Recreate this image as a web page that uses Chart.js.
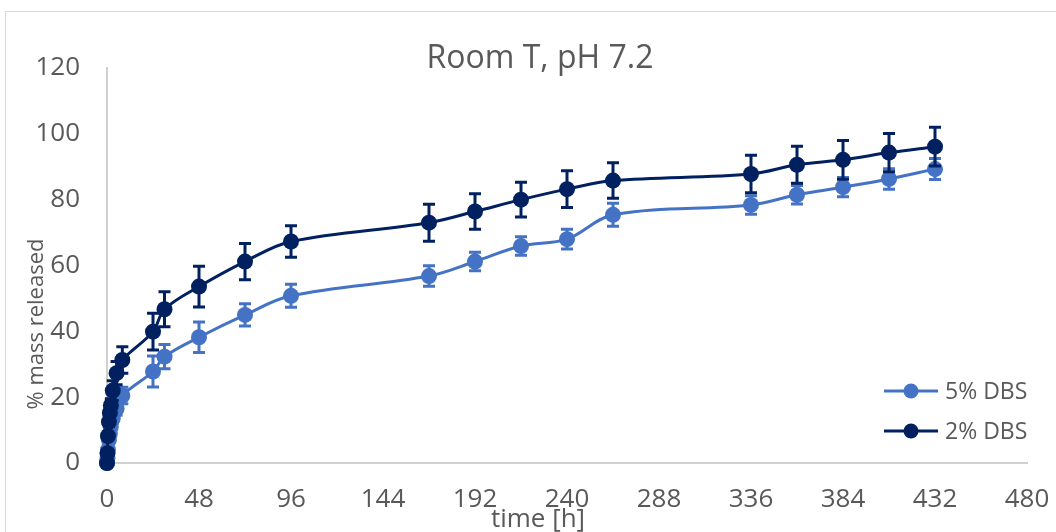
<!DOCTYPE html>
<html>
<head>
<meta charset="utf-8">
<script src="https://cdn.jsdelivr.net/npm/chart.js@4.4.1/dist/chart.umd.min.js"></script>
<style>
  html, body { margin: 0; padding: 0; background: #fff; }
  #wrap { width: 1056px; height: 532px; }
</style>
</head>
<body>
<div id="wrap"><canvas id="releaseChart" width="1056" height="532"></canvas></div>
<script>
// sampling times [h]
const hours = [0, 0.25, 0.5, 1, 1.5, 2, 3, 5, 8, 24, 30, 48, 72, 96, 168, 192, 216, 240, 264, 336, 360, 384, 408, 432];

// % mass released, 5% DBS
const dbs5 = [0, 1.5, 4, 7, 9, 11, 13.5, 16.5, 20.5, 27.8, 32.3, 38.2, 45, 50.8, 56.8, 61.2, 65.9, 68, 75.4, 78.4, 81.5, 83.8, 86.3, 89.3];
const dbs5Err = [0, 0.3, 0.5, 1, 1, 1.5, 1.5, 2, 2.5, 4.7, 3.7, 4.6, 3.4, 3.5, 3.1, 2.8, 2.8, 3, 3.5, 2.8, 2.8, 2.9, 3.1, 3.2];

// % mass released, 2% DBS
const dbs2 = [0, 3, 8.2, 12.5, 15.2, 17.5, 22, 27.3, 31.3, 39.9, 46.7, 53.6, 61.2, 67.3, 73, 76.4, 80, 83.2, 85.8, 87.8, 90.6, 92.1, 94.3, 96.1];
const dbs2Err = [0, 0.5, 1, 1.5, 2, 2, 3, 3.5, 4, 5.6, 5.3, 6.2, 5.5, 4.8, 5.6, 5.4, 5.3, 5.6, 5.4, 5.7, 5.6, 5.9, 5.8, 5.9];

const seriesLabels = ['5% DBS', '2% DBS'];
const seriesColors = ['#4472C4', '#002060'];
const errorSets = [dbs5Err, dbs2Err];

const textColor = '#595959';
const fontFamily = "'Open Sans', 'Liberation Sans', sans-serif";

const toPoints = (vals) => hours.map((h, i) => ({ x: h, y: vals[i] }));

// error bars drawn from the y scale, per dataset
const errorBars = {
  id: 'errorBars',
  afterDatasetDraw(chart, args) {
    const errs = errorSets[args.index];
    if (!errs) return;
    const ctx = chart.ctx;
    const yScale = chart.scales.y;
    const ds = chart.data.datasets[args.index];
    ctx.save();
    ctx.strokeStyle = seriesColors[args.index];
    ctx.lineWidth = 3;
    args.meta.data.forEach((pt, i) => {
      const e = errs[i];
      if (!e) return;
      const v = ds.data[i].y;
      const top = yScale.getPixelForValue(v + e);
      const bot = yScale.getPixelForValue(v - e);
      ctx.beginPath();
      ctx.moveTo(pt.x, top);
      ctx.lineTo(pt.x, bot);
      ctx.moveTo(pt.x - 6, top);
      ctx.lineTo(pt.x + 6, top);
      ctx.moveTo(pt.x - 6, bot);
      ctx.lineTo(pt.x + 6, bot);
      ctx.stroke();
    });
    ctx.restore();
  }
};

// frame, title, axis titles and legend, Excel style
const decor = {
  id: 'decor',
  beforeDraw(chart) {
    const ctx = chart.ctx;
    ctx.save();
    ctx.fillStyle = '#ffffff';
    ctx.fillRect(0, 0, chart.width, chart.height);
    ctx.strokeStyle = '#d9d9d9';
    ctx.lineWidth = 1;
    ctx.strokeRect(5.5, 11.5, chart.width + 20, chart.height + 20);
    ctx.restore();
  },
  afterDraw(chart) {
    const ctx = chart.ctx;
    ctx.save();
    ctx.fillStyle = textColor;
    ctx.textAlign = 'center';
    ctx.textBaseline = 'alphabetic';

    ctx.font = '32px ' + fontFamily;
    ctx.fillText('Room T, pH 7.2', 540, 68);

    ctx.font = '26px ' + fontFamily;
    ctx.fillText('time [h]', 538, 527);

    ctx.save();
    ctx.translate(43, 324);
    ctx.rotate(-Math.PI / 2);
    ctx.font = '22px ' + fontFamily;
    ctx.fillText('% mass released', 0, 0);
    ctx.restore();

    // legend
    ctx.font = '23px ' + fontFamily;
    ctx.textAlign = 'left';
    ctx.textBaseline = 'middle';
    const rows = [391, 431];
    chart.data.datasets.forEach((ds, i) => {
      const y = rows[i];
      ctx.strokeStyle = ds.borderColor;
      ctx.lineWidth = 3;
      ctx.beginPath();
      ctx.moveTo(884, y);
      ctx.lineTo(938, y);
      ctx.stroke();
      ctx.fillStyle = ds.backgroundColor;
      ctx.beginPath();
      ctx.arc(911, y, 7.5, 0, Math.PI * 2);
      ctx.fill();
      ctx.fillStyle = textColor;
      ctx.fillText(ds.label, 945, y + 1);
    });
    ctx.restore();
  }
};

const ctx = document.getElementById('releaseChart').getContext('2d');
new Chart(ctx, {
  type: 'line',
  data: {
    datasets: [
      {
        label: seriesLabels[0],
        data: toPoints(dbs5),
        borderColor: seriesColors[0],
        backgroundColor: seriesColors[0],
        borderWidth: 3,
        pointRadius: 8,
        pointBorderWidth: 0,
        tension: 0.35,
        clip: false,
        order: 2
      },
      {
        label: seriesLabels[1],
        data: toPoints(dbs2),
        borderColor: seriesColors[1],
        backgroundColor: seriesColors[1],
        borderWidth: 3,
        pointRadius: 8,
        pointBorderWidth: 0,
        tension: 0.35,
        clip: false,
        order: 1
      }
    ]
  },
  options: {
    responsive: false,
    animation: false,
    layout: { padding: { left: 0, right: 29, top: 68, bottom: 0 } },
    plugins: {
      legend: { display: false },
      title: { display: false },
      tooltip: { enabled: false }
    },
    scales: {
      x: {
        type: 'linear',
        min: 0,
        max: 480,
        grid: { display: false, drawTicks: false },
        border: { display: true, color: '#d0d0d0', width: 2 },
        ticks: {
          stepSize: 48,
          padding: 21,
          color: textColor,
          font: { family: fontFamily, size: 26 },
          maxRotation: 0
        },
        afterFit(scale) {
          scale.height = 69;
          scale.paddingLeft = 0;
          scale.paddingRight = 0;
        }
      },
      y: {
        min: 0,
        max: 120,
        grid: { display: false, drawTicks: false },
        border: { display: true, color: '#d0d0d0', width: 2 },
        ticks: {
          stepSize: 20,
          padding: 27,
          color: textColor,
          font: { family: fontFamily, size: 26 }
        },
        afterFit(scale) {
          scale.width = 107;
          scale.paddingTop = 0;
          scale.paddingBottom = 0;
        }
      }
    }
  },
  plugins: [errorBars, decor]
});
</script>
</body>
</html>
